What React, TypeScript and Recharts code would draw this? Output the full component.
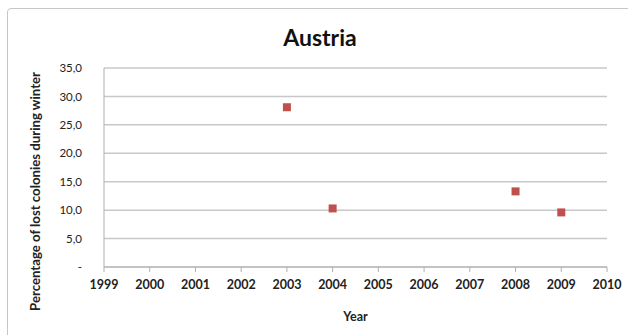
import {
    ScatterChart,
    Scatter,
    XAxis,
    YAxis,
    ZAxis,
    CartesianGrid,
    Label,
} from "recharts";

const years = [2003, 2004, 2008, 2009];
const lostPercent = [28.1, 10.3, 13.3, 9.6];
const yearTicks = [1999, 2000, 2001, 2002, 2003, 2004, 2005, 2006, 2007, 2008, 2009, 2010];
const percentTicks = [0, 5, 10, 15, 20, 25, 30, 35];

const points = years.map((year, i) => ({ year, lost: lostPercent[i] }));

const font = "Lato, 'Open Sans', sans-serif";

const formatPercent = (value: number) =>
    value === 0 ? "-" : value.toFixed(1).replace(".", ",");

const YLabel = ({ viewBox }: any) => {
    const cx = 35;
    const cy = viewBox.y + viewBox.height / 2 + 24;
    return (
        <text
            x={cx}
            y={cy}
            transform={`rotate(-90 ${cx} ${cy})`}
            textAnchor="middle"
            dominantBaseline="central"
            fontFamily={font}
            fontWeight="bold"
            fontSize={13.2}
            fill="#222"
        >
            Percentage of lost colonies during winter
        </text>
    );
};

const App = () => {
    return (
        <div
            style={{
                position: "absolute",
                left: 0,
                top: 0,
                width: 628,
                height: 335,
                background: "#fff",
                overflow: "hidden",
            }}
        >
            <div
                style={{
                    position: "absolute",
                    left: 7,
                    top: 8,
                    width: 640,
                    height: 340,
                    border: "1px solid #c6c6c6",
                    borderRadius: 4,
                }}
            />
            <div
                style={{
                    position: "absolute",
                    left: 0,
                    top: 23,
                    width: 640,
                    textAlign: "center",
                    fontFamily: font,
                    fontWeight: "bold",
                    fontSize: 23,
                    color: "#111",
                }}
            >
                Austria
            </div>
            <div style={{ position: "absolute", left: 0, top: 0 }}>
                <ScatterChart
                    width={628}
                    height={335}
                    margin={{ top: 68, right: 21, bottom: 0, left: 0 }}
                >
                    <CartesianGrid
                        vertical={false}
                        stroke="#c8c8c8"
                        strokeWidth={1.5}
                    />
                    <XAxis
                        type="number"
                        dataKey="year"
                        domain={[1999, 2010]}
                        ticks={yearTicks}
                        interval={0}
                        height={68}
                        stroke="#b0b0b0"
                        tickSize={5}
                        tickMargin={8}
                        tick={{
                            fill: "#222",
                            fontSize: 12.5,
                            fontFamily: font,
                            fontWeight: "bold",
                        }}
                    >
                        <Label
                            value="Year"
                            position="insideTop"
                            offset={45}
                            style={{
                                fill: "#222",
                                fontSize: 12.5,
                                fontFamily: font,
                                fontWeight: "bold",
                            }}
                        />
                    </XAxis>
                    <YAxis
                        type="number"
                        dataKey="lost"
                        domain={[0, 35]}
                        ticks={percentTicks}
                        interval={0}
                        width={104}
                        stroke="#b0b0b0"
                        tickLine={false}
                        tickSize={6}
                        tickMargin={16}
                        tickFormatter={formatPercent}
                        tick={{
                            fill: "#222",
                            fontSize: 11.5,
                            fontFamily: font,
                        }}
                    >
                        <Label content={<YLabel />} />
                    </YAxis>
                    <ZAxis range={[169, 169]} />
                    <Scatter
                        data={points}
                        fill="#c0504d"
                        shape="square"
                        isAnimationActive={false}
                    />
                </ScatterChart>
            </div>
        </div>
    );
};

export default App;
